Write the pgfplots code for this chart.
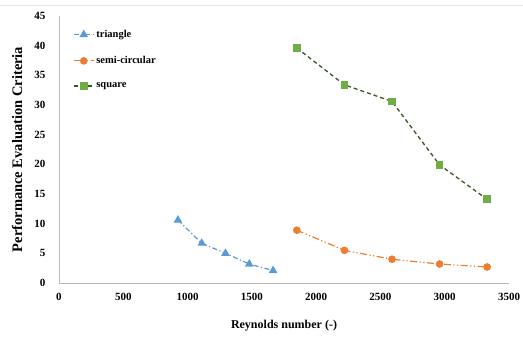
\documentclass[border=0pt]{standalone}
\usepackage{pgfplots}
\pgfplotsset{compat=1.18}
\usepackage{fontspec}
\setmainfont{Liberation Serif}
\definecolor{cblue}{HTML}{5B9BD5}
\definecolor{corange}{HTML}{ED7D31}
\definecolor{cgreen}{HTML}{70AD47}
\definecolor{cdgreen}{HTML}{375623}
\begin{document}
\begin{tikzpicture}
\begin{axis}[
  name=ax,
  scale only axis,
  width=450pt, height=267pt,
  xmin=0, xmax=3500, ymin=0, ymax=45,
  xtick={0,500,...,3500}, ytick={0,5,...,45},
  axis x line*=bottom, axis y line*=left,
  axis line style={draw=gray!55, line width=0.8pt, -},
  major tick length=0pt,
  /pgf/number format/assume math mode=true,
  /pgf/number format/1000 sep={},
  tick label style={font=\fontsize{11}{12}\selectfont\bfseries},
  xticklabel style={anchor=center, yshift=-14pt},
  yticklabel style={anchor=east, xshift=-10pt},
  xlabel={Reynolds number (-)},
  ylabel={Performance Evaluation Criteria},
  xlabel style={font=\fontsize{12}{14}\selectfont\bfseries, at={(axis description cs:0.5,0)}, anchor=center, yshift=-43pt},
  ylabel style={font=\fontsize{14.5}{16}\selectfont\bfseries, at={(axis description cs:-0.0933,0.5)}, anchor=center, rotate=0},
  legend style={draw=none, fill=none, at={(0.031,0.955)}, anchor=north west,
    font=\fontsize{10.5}{12}\selectfont\bfseries, row sep=13.5pt, inner sep=0pt},
  legend cell align=left,
  legend image code/.code={
    \draw[mark repeat=2,mark phase=2] plot coordinates {(0cm,0cm) (0.35cm,0cm) (0.7cm,0cm)};
  },
]
\addplot[color=cblue, line width=1.2pt, dash pattern=on 5pt off 2.5pt on 1.2pt off 2.5pt,
  mark=triangle*, mark size=3.8pt, mark options={solid, fill=cblue, draw=cblue}]
  coordinates {(925,10.6) (1110,6.7) (1295,5.0) (1480,3.2) (1665,2.1)};
\addlegendentry{triangle}
\addplot[color=corange, line width=1.2pt, dash pattern=on 7pt off 2.5pt on 1.2pt off 2.5pt on 1.2pt off 2.5pt,
  mark=*, mark size=3.2pt, mark options={solid, fill=corange, draw=corange}]
  coordinates {(1850,8.9) (2220,5.5) (2590,4.0) (2960,3.2) (3330,2.7)};
\addlegendentry{semi-circular}
\addplot[color=cdgreen, line width=1.3pt, dash pattern=on 4pt off 3pt,
  mark=square*, mark size=3.2pt, mark options={solid, fill=cgreen, draw=cgreen}]
  coordinates {(1850,39.6) (2220,33.4) (2590,30.6) (2960,19.9) (3330,14.1)};
\addlegendentry{square}
\end{axis}
\draw[gray!20, line width=1pt] ([shift={(-59pt,11pt)}]ax.north west) -- ([shift={(14pt,11pt)}]ax.north east);
\pgfresetboundingbox
\path ([shift={(-59pt,-54pt)}]ax.south west) rectangle ([shift={(14pt,16pt)}]ax.north east);
\end{tikzpicture}
\end{document}
